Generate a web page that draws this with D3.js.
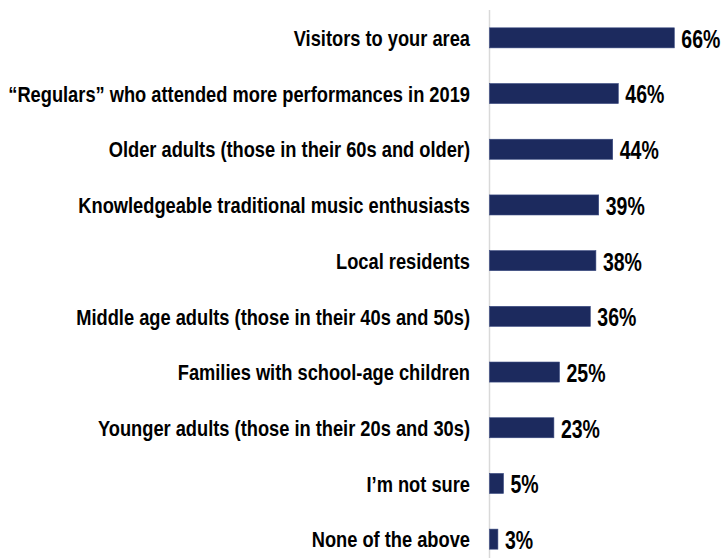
<!DOCTYPE html>
<html><head><meta charset="utf-8">
<script src="https://cdn.jsdelivr.net/npm/d3@7"></script>
<style>body{margin:0;background:#fff}svg{display:block}text{font-family:"Liberation Sans",Arial,sans-serif;font-weight:bold;fill:#000}</style>
</head><body><svg id="c" width="724" height="558"></svg>
<script>
const categories = ["Visitors to your area","\u201cRegulars\u201d who attended more performances in 2019","Older adults (those in their 60s and older)","Knowledgeable traditional music enthusiasts","Local residents","Middle age adults (those in their 40s and 50s)","Families with school-age children","Younger adults (those in their 20s and 30s)","I\u2019m not sure","None of the above"];
const values = [66,46,44,39,38,36,25,23,5,3];
const labels = values.map(v => v + "%");

const svg = d3.select("#c");
const x0 = 489.5;
const x = d3.scaleLinear().domain([0,100]).range([x0, x0 + 280]);
const y = d3.scaleBand().domain(categories).range([10, 567]).paddingInner(0.64).paddingOuter(0.32);

svg.append("line").attr("x1",x0).attr("x2",x0).attr("y1",10).attr("y2",558)
  .attr("stroke","#d9d9d9").attr("stroke-width",1.5);

svg.selectAll("rect.bar").data(values).join("rect").attr("class","bar")
  .attr("x", x(0)).attr("y",(d,i)=>y(categories[i]))
  .attr("width", d=>x(d)-x(0)).attr("height", y.bandwidth())
  .attr("fill","#1c2a5e").attr("stroke","#3a4a80").attr("stroke-width",0.6);

svg.selectAll("text.cat").data(categories).join("text").attr("class","cat")
  .attr("transform", d=>`translate(470,${y(d)+y.bandwidth()/2}) scale(0.85,1)`)
  .attr("dy","0.38em").attr("text-anchor","end").style("font-size","21.5px").text(d=>d);

svg.selectAll("text.val").data(values).join("text").attr("class","val")
  .attr("transform",(d,i)=>`translate(${x(d)+7},${y(categories[i])+y.bandwidth()/2}) scale(0.75,1)`)
  .attr("dy","0.38em").style("font-size","26px").text((d,i)=>labels[i]);
</script></body></html>
